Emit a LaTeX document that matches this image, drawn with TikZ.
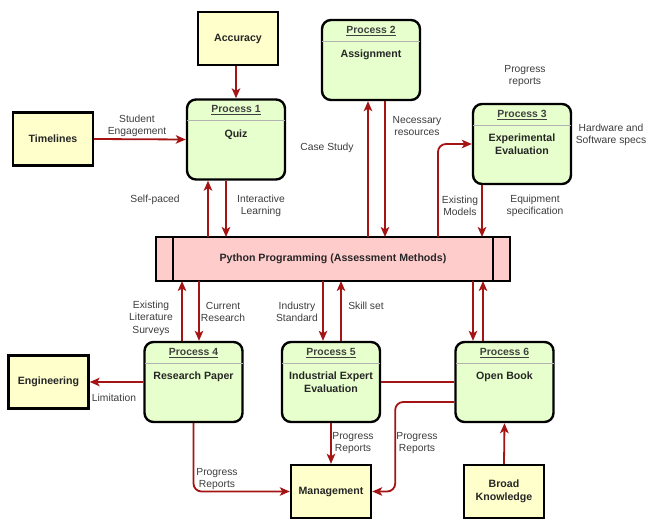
\documentclass[tikz,border=0pt]{standalone}
\usepackage{fontspec}
\setmainfont{Liberation Sans}
\usetikzlibrary{arrows.meta}
\definecolor{flowred}{RGB}{165,20,20}
\definecolor{extfill}{RGB}{255,255,204}
\definecolor{procfill}{RGB}{230,255,204}
\definecolor{storefill}{RGB}{255,204,204}
\definecolor{lblgray}{RGB}{60,60,60}

\begin{document}
\begin{tikzpicture}[x=1pt,y=-1pt,
  ext/.style={draw,line width=2.4pt,fill=extfill,minimum width=80pt,minimum height=53pt,
    align=center,font=\fontsize{10.6}{12.5}\selectfont\bfseries,text=black!85},
  proc/.style={draw,line width=2.4pt,fill=procfill,rounded corners=9pt,
    minimum width=98pt,minimum height=80pt},
  store/.style={draw,line width=2.4pt,fill=storefill,outer sep=0pt,minimum width=354pt,
    minimum height=44pt,font=\fontsize{10.6}{12.5}\selectfont\bfseries,text=black!85},
  ptitle/.style={font=\fontsize{10.4}{12}\selectfont\bfseries,text=black!75},
  pname/.style={anchor=north,inner sep=0pt,align=center,
    font=\fontsize{10.6}{12.5}\selectfont\bfseries,text=black!85},
  divider/.style={draw=black!30,line width=1pt},
  flow/.style={draw=flowred,line width=1.8pt,-{Stealth[length=10pt,width=8.5pt,inset=2.5pt]}},
  link/.style={draw=flowred,line width=1.8pt},
  lbl/.style={align=center,font=\fontsize{10.3}{12.5}\selectfont,text=lblgray}]
  \useasboundingbox (0,0) rectangle (648,519);

  % external entities
  \node[ext] (acc) at (238,38.5) {Accuracy};
  \node[ext] (tim) at (53,139) {Timelines};
  \node[ext] (eng) at (48.5,382) {Engineering};
  \node[ext] (mgt) at (331,491.5) {Management};
  \node[ext] (bk) at (504,491.5) {Broad\\Knowledge};

  % processes
  \node[proc] (p1) at (236,139.5) {};
  \node[proc] (p2) at (371,60) {};
  \node[proc] (p3) at (522,144) {};
  \node[proc] (p4) at (193.5,382) {};
  \node[proc] (p5) at (331,382) {};
  \node[proc] (p6) at (504.5,382) {};
  \foreach \p/\n in {p1/1,p2/2,p3/3,p4/4,p5/5,p6/6} {
    \node[ptitle] at ([yshift=-12pt]\p.north) {\underline{Process \n}};
    \draw[divider] ([xshift=1.2pt,yshift=-22.5pt]\p.north west) -- ([xshift=-1.2pt,yshift=-22.5pt]\p.north east);
  }
  \node[pname] at ([yshift=-31pt]p1.north) {Quiz};
  \node[pname] at ([yshift=-31pt]p2.north) {Assignment};
  \node[pname] at ([yshift=-31pt]p3.north) {Experimental\\Evaluation};
  \node[pname] at ([yshift=-31pt]p4.north) {Research Paper};
  \node[pname] at ([yshift=-31pt]p5.north) {Industrial Expert\\Evaluation};
  \node[pname] at ([yshift=-31pt]p6.north) {Open Book};

  % data store
  \node[store] (pp) at (333,259) {Python Programming (Assessment Methods)};
  \draw[line width=2.4pt] ([xshift=17pt]pp.north west) -- ([xshift=17pt]pp.south west);
  \draw[line width=2.4pt] ([xshift=-17pt]pp.north east) -- ([xshift=-17pt]pp.south east);

  % flows
  \draw[flow] (acc.south -| 236,0) -- (p1.north -| 236,0);
  \draw[flow] (tim.east) -- (p1.west);
  \draw[flow] (pp.north -| 208,0) -- (p1.south -| 208,0);
  \draw[flow] (p1.south -| 226,0) -- (pp.north -| 226,0);
  \draw[flow] (pp.north -| 368,0) -- (p2.south -| 368,0);
  \draw[flow] (p2.south -| 385,0) -- (pp.north -| 385,0);
  \draw[flow,rounded corners=8pt] (pp.north -| 438,0) |- (p3.west);
  \draw[flow] (p3.south -| 482,0) -- (pp.north -| 482,0);
  \draw[flow] (p4.north -| 182,0) -- (pp.south -| 182,0);
  \draw[flow] (pp.south -| 199,0) -- (p4.north -| 199,0);
  \draw[flow] (pp.south -| 323,0) -- (p5.north -| 323,0);
  \draw[flow] (p5.north -| 341,0) -- (pp.south -| 341,0);
  \draw[flow] (pp.south -| 473,0) -- (p6.north -| 473,0);
  \draw[flow] (p6.north -| 483,0) -- (pp.south -| 483,0);
  \draw[flow] (p4.west) -- (eng.east);
  \draw[link] (p5.east) -- (p6.west);
  \draw[flow,rounded corners=8pt] ([yshift=-20pt]p6.west) -| ([xshift=23pt]mgt.east) -- (mgt.east);
  \draw[flow,rounded corners=8pt] (p4.south) |- (mgt.west);
  \draw[flow] (p5.south) -- (mgt.north);
  \draw[flow] (bk.north) -- (p6.south);

  % labels
  \node[lbl] at (137,126) {Student\\Engagement};
  \node[lbl] at (155,200) {Self-paced};
  \node[lbl] at (261,206) {Interactive\\Learning};
  \node[lbl] at (327,148) {Case Study};
  \node[lbl] at (417,126) {Necessary\\resources};
  \node[lbl] at (525,76) {Progress\\reports};
  \node[lbl] at (611,135) {Hardware and\\Software specs};
  \node[lbl] at (460,206) {Existing\\Models};
  \node[lbl] at (535,206) {Equipment\\specification};
  \node[lbl] at (151,318) {Existing\\Literature\\Surveys};
  \node[lbl] at (223,312) {Current\\Research};
  \node[lbl] at (297,312) {Industry\\Standard};
  \node[lbl] at (366,306) {Skill set};
  \node[lbl] at (114,398) {Limitation};
  \node[lbl] at (217,479) {Progress\\Reports};
  \node[lbl] at (353,443) {Progress\\Reports};
  \node[lbl] at (417,443) {Progress\\Reports};
\end{tikzpicture}
\end{document}
